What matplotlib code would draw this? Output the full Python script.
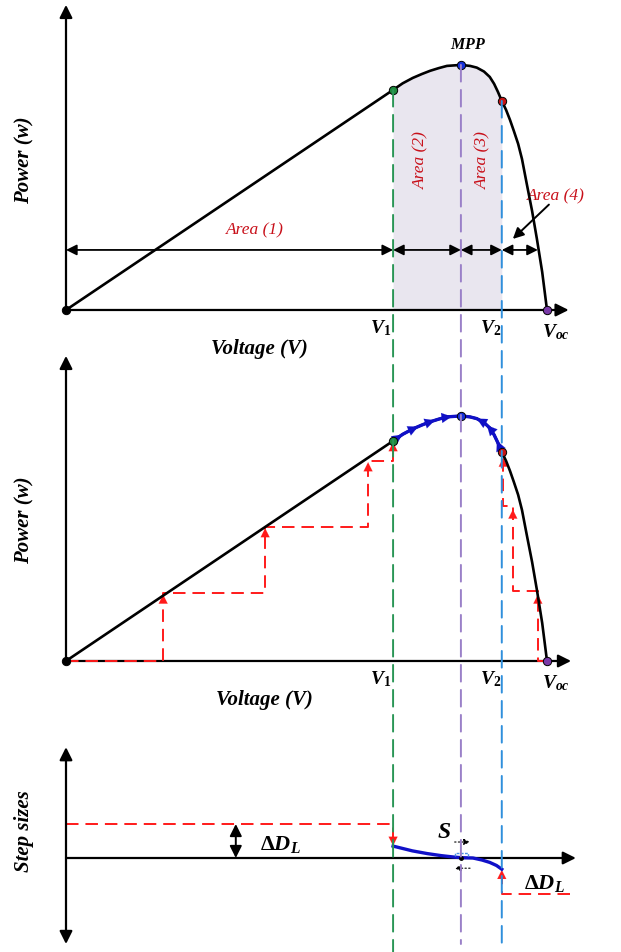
import numpy as np
import matplotlib
matplotlib.use("Agg")
import matplotlib.pyplot as plt
from matplotlib.patches import ConnectionPatch

plt.rcParams["font.family"] = ["Liberation Serif", "DejaVu Serif"]
plt.rcParams["mathtext.fontset"] = "custom"
plt.rcParams["mathtext.it"] = "Liberation Serif:italic:bold"
plt.rcParams["mathtext.rm"] = "Liberation Serif:bold"
plt.rcParams["mathtext.bf"] = "Liberation Serif:bold"
plt.rcParams["lines.scale_dashes"] = False

# P-V curve (voltage in % of Voc, power in % of Pmpp)
volt = [0, 68.0, 70.0, 72.1, 74.0, 75.7, 77.5, 79.2, 82.1, 84.0, 85.4, 86.9, 88.1, 89.0, 89.8,
        90.6, 91.5, 92.3, 93.1, 94.0, 94.8, 95.8, 96.9, 97.9, 99.0, 100]
power = [0, 89.8, 92.5, 94.7, 96.3, 97.6, 98.7, 99.6, 100, 99.6, 98.9, 97.3, 95.1, 92.3, 89.0,
         85.3, 81.6, 77.6, 73.1, 67.8, 61.6, 51.4, 40.4, 29.0, 15.5, 0]

V1, VMPP, V2, VOC = 68.0, 82.1, 90.6, 100.0
P1, PMPP, P2 = 89.8, 100.0, 85.3

# area arrows (top panel)
area_edges = [0, V1, VMPP, V2, 98.1]
area_y = 24.5

# staircase of the fixed-step search (middle panel)
stair_left_v = [0, 20.2, 20.2, 41.4, 41.4, 62.8, 62.8, V1, V1]
stair_left_p = [0, 0, 27.6, 27.6, 54.7, 54.7, 81.6, 81.6, P1]
stair_right_v = [VOC, 98.1, 98.1, 92.9, 92.9, 90.9, 90.9]
stair_right_p = [0, 0, 28.6, 28.6, 63.3, 63.3, 84.5]

# arrowheads along the adaptive path
fwd_heads = [69.9, 73.2, 76.7, 80.2]
back_heads = [85.4, 87.5, 89.6]

# step size curve (bottom panel)
step_v = [V1, 70.0, 72.0, 75.1, 78.0, 80.5, VMPP, 84.6, 86.5, 88.1, 89.5, V2]
step_d = [0.35, 0.28, 0.21, 0.13, 0.07, 0.03, 0.01, 0.0, -0.06, -0.13, -0.22, -0.33]
step_large = 1.0
step_low = -1.06

W, H = 621, 953
fig = plt.figure(figsize=(W / 100, H / 100), dpi=100)

xlim = (-66 / 4.81, (W - 66) / 4.81)


def make_ax(top_px, bot_px, ylim):
    ax = fig.add_axes([0, 1 - bot_px / H, 1, (bot_px - top_px) / H])
    ax.set_xlim(*xlim)
    ax.set_ylim(*ylim)
    ax.axis("off")
    ax.patch.set_alpha(0)
    return ax


ax1 = make_ax(0, 360, (-20.0, 126.9))
ax2 = make_ax(351, 711, (-20.0, 126.9))
ax3 = make_ax(711, 953, ((859 - 953) / 34, (859 - 711) / 34))

lbl = dict(fontsize=15, fontweight="bold", fontstyle="italic")
red_txt = dict(color="#c8101a", fontstyle="italic", fontsize=12.5)

AX_HEAD = "-|>,head_length=0.9,head_width=0.45"
DBL_HEAD = "<|-|>,head_length=0.9,head_width=0.45"
SMALL = "-|>,head_length=0.8,head_width=0.4"


def arrow(ax, p0, p1, style="-|>", lw=1.6, color="k", ms=9, ls="-"):
    ax.annotate("", xy=p1, xytext=p0,
                arrowprops=dict(arrowstyle=style, lw=lw, color=color, shrinkA=0,
                                shrinkB=0, mutation_scale=ms, linestyle=ls))


for ax, ytop, xend in [(ax1, 124.5, 104.5), (ax2, 124.5, 105.0)]:
    arrow(ax, (0, 0), (0, ytop), AX_HEAD, ms=8.5)
    arrow(ax, (0, 0), (xend, 0), AX_HEAD, ms=8.5)
    ax.plot(volt, power, color="k", lw=1.9, zorder=4)
    ax.text(40.3 + (1 if ax is ax2 else 0), -15.5, "Voltage (V)", ha="center", va="center", **lbl)
    ax.text(-8.7, 61.6 if ax is ax1 else 58.0, "Power (w)", rotation=90, ha="center", va="center", **lbl)
    ax.text(V1 - 2.6, -7.0, "$V_1$", ha="center", va="center", fontsize=14)
    ax.text(V2 - 2.4, -7.0, "$V_2$", ha="center", va="center", fontsize=14)
    ax.text(VOC + 1.8, -8.8, "$V_{oc}$", ha="center", va="center", fontsize=14)

# top panel
vv = np.array(volt)
pp = np.array(power)
m = (vv >= V1) & (vv <= V2)
ax1.fill_between(vv[m], 0, pp[m], color="#e9e6ef", lw=0, zorder=1)
for a, b in zip(area_edges[:-1], area_edges[1:]):
    arrow(ax1, (a, area_y), (b, area_y), DBL_HEAD, lw=1.3, ms=7)
ax1.text(39.3, 32.7, "Area (1)", ha="center", va="center", **red_txt)
ax1.text(73.8, 61.6, "Area (2)", rotation=90, ha="center", va="center", **red_txt)
ax1.text(86.7, 61.6, "Area (3)", rotation=90, ha="center", va="center", **red_txt)
ax1.text(101.9, 46.9, "Area (4)", ha="center", va="center", **red_txt)
arrow(ax1, (100.4, 43.0), (92.9, 29.0), SMALL, lw=1.4, ms=8)
ax1.text(83.6, 108.6, "$MPP$", ha="center", va="center", fontsize=11.5)

pts = [(0, 0, "k"), (V1, P1, "#1f8a3e"), (VMPP, PMPP, "#1530d8"), (V2, P2, "#c81414"), (VOC, 0, "#7a3aa8")]
for v, p, c in pts:
    ax1.plot(v, p, "o", ms=6, mfc=c, mec="k", mew=0.7, zorder=6)

# middle panel
ax2.plot(stair_left_v, stair_left_p, color="#ff1a1a", lw=1.4, dashes=(9, 5), zorder=3)
ax2.plot(stair_right_v, stair_right_p, color="#ff1a1a", lw=1.4, dashes=(9, 5), zorder=3)
for i in range(2, len(stair_left_v), 2):
    arrow(ax2, (stair_left_v[i], stair_left_p[i] - 4), (stair_left_v[i], stair_left_p[i] - 0.5),
          SMALL, lw=0.1, color="#ff1a1a", ms=8)
for i in range(2, len(stair_right_v), 2):
    arrow(ax2, (stair_right_v[i], stair_right_p[i] - 5), (stair_right_v[i], stair_right_p[i] - 1.5),
          SMALL, lw=0.1, color="#ff1a1a", ms=8)

m2 = (vv >= V1) & (vv <= V2)
ax2.plot(vv[m2], pp[m2], color="#1010c8", lw=2.4, zorder=5)
for h in fwd_heads:
    arrow(ax2, (h - 1.5, np.interp(h - 1.5, vv, pp)), (h, np.interp(h, vv, pp)),
          SMALL, lw=0.1, color="#1010c8", ms=9)
for h in back_heads:
    arrow(ax2, (h + 0.8, np.interp(h + 0.8, vv, pp)), (h, np.interp(h, vv, pp)),
          SMALL, lw=0.1, color="#1010c8", ms=9)
for v, p, c in pts:
    ax2.plot(v, p, "o", ms=6, mfc=c, mec="k", mew=0.7, zorder=6)

# bottom panel
arrow(ax3, (0, 0), (106.0, 0), AX_HEAD, ms=8.5)
arrow(ax3, (0, -2.53), (0, 3.26), DBL_HEAD, ms=8.5)
ax3.text(-8.7, 0.82, "Step sizes", rotation=90, ha="center", va="center", **lbl)
ax3.plot([0, V1, V1], [step_large, step_large, 0.45], color="#ff1a1a", lw=1.4, dashes=(9, 5))
arrow(ax3, (V1, 0.6), (V1, 0.36), SMALL, lw=0.1, color="#ff1a1a", ms=8)
ax3.plot([104.8, V2, V2], [step_low, step_low, -0.5], color="#ff1a1a", lw=1.4, dashes=(9, 5))
arrow(ax3, (V2, -0.6), (V2, -0.35), SMALL, lw=0.1, color="#ff1a1a", ms=8)
ax3.plot(step_v, step_d, color="#1010c8", lw=2.4, zorder=5)
arrow(ax3, (35.3, 0), (35.3, step_large), DBL_HEAD, lw=1.4, ms=8)
ax3.text(40.3, 0.42, r"$\Delta D_L$", ha="left", va="center", fontsize=16)
ax3.text(99.5, -0.72, r"$\Delta D_L$", ha="center", va="center", fontsize=16)
ax3.text(78.6, 0.78, "$S$", ha="center", va="center", fontsize=17)
arrow(ax3, (80.8, 0.47), (84.0, 0.47), "-|>,head_length=0.6,head_width=0.3", lw=0.8, ms=6, ls=":")
arrow(ax3, (84.0, -0.3), (80.8, -0.3), "-|>,head_length=0.6,head_width=0.3", lw=0.8, ms=6, ls=":")
ax3.plot([80.8, 80.8, 83.5, 83.5], [0.05, 0.15, 0.15, 0.05], color="#4a90e2", lw=1.0, dashes=(2, 1), zorder=6)
ax3.plot(VMPP, 0, "o", ms=2.5, color="k", zorder=7)

# guide lines through all three panels
guides = [(V1, P1, "#2a9656", (859 - 953) / 34), (VMPP, PMPP, "#9a80c8", (859 - 945) / 34),
          (V2, P2, "#2f8fdc", (859 - 945) / 34)]
for v, p, c, yb in guides:
    cp = ConnectionPatch((v, p), (v, yb), coordsA=ax1.transData, coordsB=ax3.transData,
                         color=c, lw=1.4, linestyle=(0, (12, 6)), zorder=2)
    fig.add_artist(cp)

fig.savefig("out.png", dpi=100)
